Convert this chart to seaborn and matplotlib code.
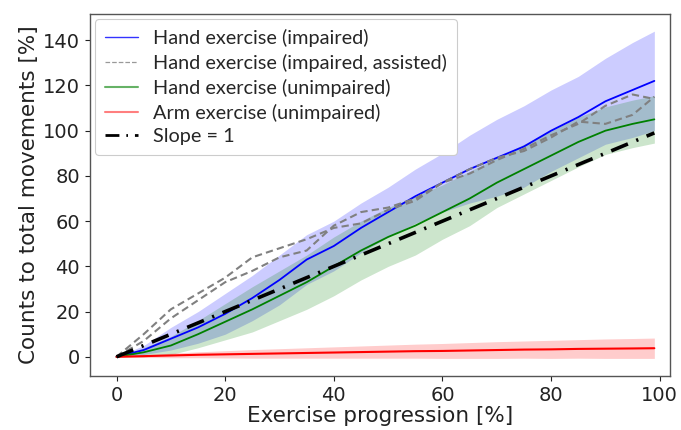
import numpy as np
import pandas as pd
import seaborn as sns
import matplotlib
matplotlib.use("Agg")
import matplotlib.pyplot as plt
from matplotlib.lines import Line2D

# Exercise progression grid [%]
progress = [0, 5, 10, 15, 20, 25, 30, 35, 40, 45, 50, 55, 60, 65, 70, 75, 80, 85, 90, 95, 99]

# Hand exercise, impaired: mean and spread
hand_impaired_mean = [0, 3, 8, 13, 19, 26, 34, 43, 49, 57, 64, 71, 77, 83, 88, 93, 100, 106, 113, 118, 122]
hand_impaired_sd = [0, 2, 5, 7, 9, 10, 11, 11, 11, 11, 11, 12, 13, 15, 17, 18, 18, 18, 19, 21, 22]

# Hand exercise, impaired with assistance: two sessions
assisted_a = [0, 10, 21, 28, 35, 44, 48, 52, 57, 59, 65, 69, 77, 81, 87, 92, 98, 103, 111, 116, 114]
assisted_b = [0, 7, 17, 25, 33, 38, 44, 47, 58, 64, 66, 70, 77, 83, 88, 91, 97, 104, 103, 107, 115]

# Hand exercise, unimpaired: mean and spread
hand_unimpaired_mean = [0, 2, 5, 10, 15.5, 21, 27, 33, 40, 47, 53, 58, 64, 70, 77, 83, 89, 95, 100, 103, 105]
hand_unimpaired_sd = [0, 2, 4, 6, 8, 10, 11, 12, 13, 13, 13, 13, 12, 12, 11, 11, 11, 11, 10.5, 10.5, 10.5]

# Arm exercise, unimpaired: mean and spread
arm_unimpaired_mean = [0, 0.3, 0.6, 0.9, 1.1, 1.3, 1.5, 1.7, 1.9, 2.1, 2.3, 2.5, 2.6, 2.8, 3.0, 3.2, 3.3, 3.5, 3.6, 3.7, 3.8]
arm_unimpaired_sd = [0, 0.6, 1.0, 1.3, 1.6, 1.9, 2.1, 2.3, 2.5, 2.7, 2.9, 3.1, 3.3, 3.5, 3.7, 3.8, 4.0, 4.1, 4.3, 4.4, 4.5]

# Reference line y = x
slope_one = progress

legend_labels = [
    "Hand exercise (impaired)",
    "Hand exercise (impaired, assisted)",
    "Hand exercise (unimpaired)",
    "Arm exercise (unimpaired)",
    "Slope = 1",
]

sns.set_style("white")
plt.rcParams["font.family"] = ["DejaVu Sans"]

fig = plt.figure(figsize=(6.81, 4.30), dpi=100)
ax = fig.add_axes([0.132, 0.126, 0.852, 0.841])

x = np.array(progress, dtype=float)
df = pd.DataFrame({
    "x": x,
    "imp": hand_impaired_mean,
    "a": assisted_a,
    "b": assisted_b,
    "unimp": hand_unimpaired_mean,
    "arm": arm_unimpaired_mean,
    "one": slope_one,
})


def band(mean, sd, color):
    m = np.array(mean, dtype=float)
    s = np.array(sd, dtype=float)
    ax.fill_between(x, m - s, m + s, color=color, alpha=0.2, linewidth=0)


band(hand_impaired_mean, hand_impaired_sd, "blue")
band(hand_unimpaired_mean, hand_unimpaired_sd, "green")
band(arm_unimpaired_mean, arm_unimpaired_sd, "red")

sns.lineplot(data=df, x="x", y="imp", ax=ax, color="blue", linewidth=1.3)
sns.lineplot(data=df, x="x", y="a", ax=ax, color="gray", linewidth=1.5, linestyle=(0, (3.5, 2)))
sns.lineplot(data=df, x="x", y="b", ax=ax, color="gray", linewidth=1.5, linestyle=(0, (3.5, 2)))
sns.lineplot(data=df, x="x", y="unimp", ax=ax, color="green", linewidth=1.3)
sns.lineplot(data=df, x="x", y="arm", ax=ax, color="red", linewidth=1.5)
ax.plot(df["x"], df["one"], color="black", linewidth=2.6, linestyle=(0, (5, 2.5, 0.6, 2.5)))

ax.set_xlim(-4.9, 101.9)
ax.set_ylim(-8.4, 151.5)
ax.set_xticks([0, 20, 40, 60, 80, 100])
ax.set_yticks([0, 20, 40, 60, 80, 100, 120, 140])
ax.tick_params(axis="both", labelsize=14, length=3.5, width=0.8, colors="#222222",
               left=True, bottom=True, direction="out")
for sp in ax.spines.values():
    sp.set_color("#555555")
    sp.set_linewidth(1.0)

ax.set_xlabel("Exercise progression [%]", fontsize=15.5, color="#222222", labelpad=1)
ax.set_ylabel("Counts to total movements [%]", fontsize=15.5, color="#222222", labelpad=3)

handles = [
    Line2D([], [], color="blue", linewidth=1.0, alpha=0.8),
    Line2D([], [], color="gray", linewidth=0.9, linestyle="--", alpha=0.8),
    Line2D([], [], color="green", linewidth=1.5, alpha=0.6),
    Line2D([], [], color="red", linewidth=1.5, alpha=0.5),
    Line2D([], [], color="black", linewidth=2.0, linestyle=(0, (5, 2.5, 0.6, 2.5))),
]
leg = ax.legend(handles, legend_labels, loc="upper left", frameon=True,
                prop={"family": "Lato", "size": 14.3}, handlelength=1.65,
                borderaxespad=0.25, labelspacing=0.34, handletextpad=0.8,
                borderpad=0.5, fancybox=True, framealpha=1.0)
leg.get_frame().set_edgecolor("#cccccc")
leg.get_frame().set_linewidth(0.8)

fig.savefig("out.png", dpi=100)
